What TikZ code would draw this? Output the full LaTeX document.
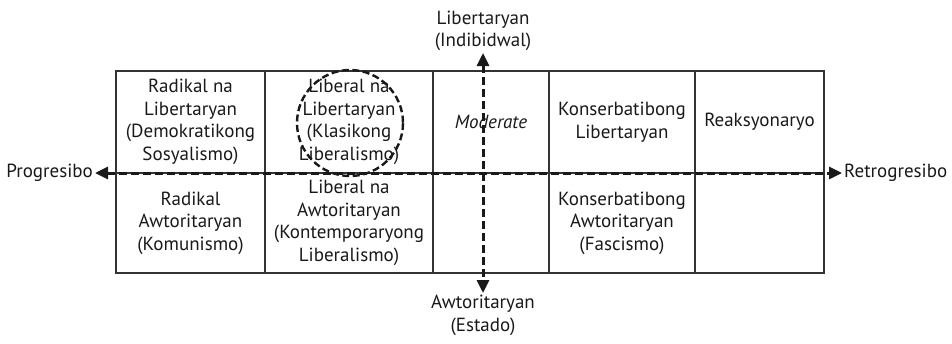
\documentclass[tikz,border=0pt]{standalone}
\usepackage{fontspec}
\setmainfont{PT Sans}
\usetikzlibrary{positioning,calc,arrows.meta}
\tikzset{>={Triangle[length=13pt,width=12pt]}}
\tikzset{
  cell/.style={align=center,font=\fontsize{19}{22.5}\selectfont,text=black!90},
  axislabel/.style={align=center,font=\fontsize{19}{22.5}\selectfont,text=black!90,inner sep=2pt},
  axis/.style={<->,line width=3pt,dash pattern=on 8pt off 4pt,black!90},
  grid/.style={line width=1.5pt,black!80},
  ring/.style={line width=2.4pt,dash pattern=on 7pt off 3.5pt,black!90}
}
\begin{document}
\begin{tikzpicture}[x=1pt,y=-1pt]
\useasboundingbox (0,0) rectangle (952,343);
\coordinate (NW) at (116,71);
\coordinate (SE) at (824,273);
\draw[grid] (NW) rectangle (SE);
\draw[grid] (116,173) -- (824,173);
\foreach \x in {265,433,549,695}
  \draw[grid] (\x,71) -- (\x,273);
\node[cell] (radlib) at (190.5,122) {Radikal na\\Libertaryan\\(Demokratikong\\Sosyalismo)};
\node[cell] (liblib) at (349,122) {Liberal na\\Libertaryan\\(Klasikong\\Liberalismo)};
\node[cell] (mod) at (491,122) {\textit{Moderate}};
\node[cell] (konlib) at (622,122) {Konserbatibong\\Libertaryan};
\node[cell] (reak) at (759.5,122) {Reaksyonaryo};
\node[cell] (radawt) at (190.5,223) {Radikal\\Awtoritaryan\\(Komunismo)};
\node[cell] (libawt) at (349,223) {Liberal na\\Awtoritaryan\\(Kontemporaryong\\Liberalismo)};
\node[cell] (konawt) at (622,223) {Konserbatibong\\Awtoritaryan\\(Fascismo)};
\draw[ring] (350,123) circle[radius=53];
\node[axislabel,anchor=east] (prog) at (95,173) {Progresibo};
\node[axislabel,anchor=west] (retro) at (842,173) {Retrogresibo};
\node[axislabel,anchor=south] (indiv) at (483,53) {Libertaryan\\(Indibidwal)};
\node[axislabel,anchor=north] (estado) at (483,293) {Awtoritaryan\\(Estado)};
\draw[axis] (prog.east) -- (retro.west);
\draw[axis] (indiv.south) -- (estado.north);
\end{tikzpicture}
\end{document}
